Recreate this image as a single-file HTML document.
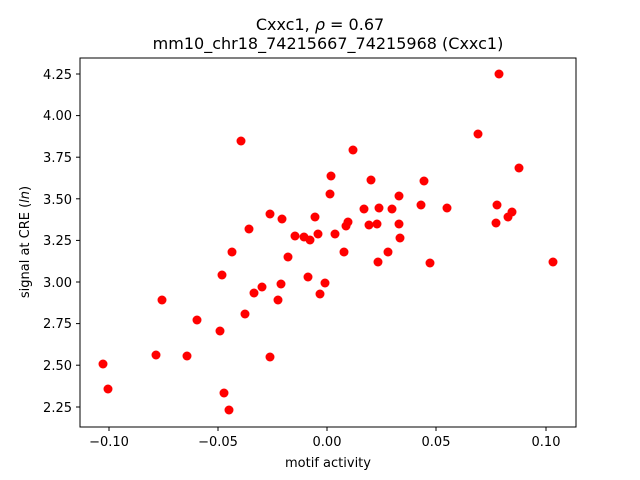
<!DOCTYPE html>
<html><head><meta charset="utf-8"><style>body{margin:0;background:#fff}svg{display:block}</style></head>
<body>
<svg width="640" height="480" xmlns="http://www.w3.org/2000/svg" font-family="'DejaVu Sans','Liberation Sans',sans-serif">
<rect width="640" height="480" fill="#fff"/>
<text x="320" y="30" font-size="16" text-anchor="middle">Cxxc1, <tspan font-style="italic">ρ</tspan> = 0.67</text>
<text x="328" y="49" font-size="16" text-anchor="middle">mm10_chr18_74215667_74215968 (Cxxc1)</text>
<g fill="#ff0000">
<circle cx="499" cy="74" r="4.5"/><circle cx="478" cy="134" r="4.5"/><circle cx="241" cy="141" r="4.5"/><circle cx="353" cy="150" r="4.5"/>
<circle cx="519" cy="168" r="4.5"/><circle cx="331" cy="176" r="4.5"/><circle cx="371" cy="180" r="4.5"/><circle cx="424" cy="181" r="4.5"/>
<circle cx="399" cy="196" r="4.5"/><circle cx="330" cy="194" r="4.5"/><circle cx="392" cy="209" r="4.5"/><circle cx="497" cy="205" r="4.5"/>
<circle cx="512" cy="212" r="4.5"/><circle cx="421" cy="205" r="4.5"/><circle cx="508" cy="217" r="4.5"/><circle cx="447" cy="208" r="4.5"/>
<circle cx="364" cy="209" r="4.5"/><circle cx="379" cy="208" r="4.5"/><circle cx="496" cy="223" r="4.5"/><circle cx="270" cy="214" r="4.5"/>
<circle cx="282" cy="219" r="4.5"/><circle cx="315" cy="217" r="4.5"/><circle cx="249" cy="229" r="4.5"/><circle cx="348" cy="222" r="4.5"/>
<circle cx="346" cy="226" r="4.5"/><circle cx="377" cy="224" r="4.5"/><circle cx="399" cy="224" r="4.5"/><circle cx="369" cy="225" r="4.5"/>
<circle cx="318" cy="234" r="4.5"/><circle cx="295" cy="236" r="4.5"/><circle cx="304" cy="237" r="4.5"/><circle cx="310" cy="240" r="4.5"/>
<circle cx="335" cy="234" r="4.5"/><circle cx="400" cy="238" r="4.5"/><circle cx="288" cy="257" r="4.5"/><circle cx="232" cy="252" r="4.5"/>
<circle cx="344" cy="252" r="4.5"/><circle cx="388" cy="252" r="4.5"/><circle cx="378" cy="262" r="4.5"/><circle cx="430" cy="263" r="4.5"/>
<circle cx="553" cy="262" r="4.5"/><circle cx="308" cy="277" r="4.5"/><circle cx="325" cy="283" r="4.5"/><circle cx="281" cy="284" r="4.5"/>
<circle cx="262" cy="287" r="4.5"/><circle cx="254" cy="293" r="4.5"/><circle cx="222" cy="275" r="4.5"/><circle cx="278" cy="300" r="4.5"/>
<circle cx="320" cy="294" r="4.5"/><circle cx="162" cy="300" r="4.5"/><circle cx="245" cy="314" r="4.5"/><circle cx="197" cy="320" r="4.5"/>
<circle cx="220" cy="331" r="4.5"/><circle cx="156" cy="355" r="4.5"/><circle cx="187" cy="356" r="4.5"/><circle cx="270" cy="357" r="4.5"/>
<circle cx="103" cy="364" r="4.5"/><circle cx="108" cy="389" r="4.5"/><circle cx="224" cy="393" r="4.5"/><circle cx="229" cy="410" r="4.5"/>
</g>
<rect x="80" y="58" width="496" height="369" fill="none" stroke="#000" stroke-width="1"/>
<g stroke="#000" stroke-width="1">
<line x1="109" y1="427" x2="109" y2="431"/><line x1="218" y1="427" x2="218" y2="431"/><line x1="327" y1="427" x2="327" y2="431"/><line x1="436" y1="427" x2="436" y2="431"/><line x1="546" y1="427" x2="546" y2="431"/>
<line x1="76" y1="74" x2="80" y2="74"/><line x1="76" y1="115.6" x2="80" y2="115.6"/><line x1="76" y1="157.2" x2="80" y2="157.2"/><line x1="76" y1="198.8" x2="80" y2="198.8"/><line x1="76" y1="240.4" x2="80" y2="240.4"/><line x1="76" y1="282" x2="80" y2="282"/><line x1="76" y1="323.6" x2="80" y2="323.6"/><line x1="76" y1="365.2" x2="80" y2="365.2"/><line x1="76" y1="407" x2="80" y2="407"/>
</g>
<g font-size="13" text-anchor="middle">
<text x="109" y="446">−0.10</text><text x="218" y="446">−0.05</text><text x="327" y="446">0.00</text><text x="436" y="446">0.05</text><text x="546" y="446">0.10</text>
</g>
<g font-size="13" text-anchor="end">
<text x="72" y="79">4.25</text><text x="72" y="120">4.00</text><text x="72" y="162">3.75</text><text x="72" y="204">3.50</text><text x="72" y="245">3.25</text><text x="72" y="287">3.00</text><text x="72" y="328">2.75</text><text x="72" y="370">2.50</text><text x="72" y="412">2.25</text>
</g>
<text x="328" y="467" font-size="13" text-anchor="middle">motif activity</text>
<text transform="translate(29,242) rotate(-90)" font-size="13" text-anchor="middle">signal at CRE (<tspan font-style="italic">ln</tspan>)</text>
</svg>
</body></html>
